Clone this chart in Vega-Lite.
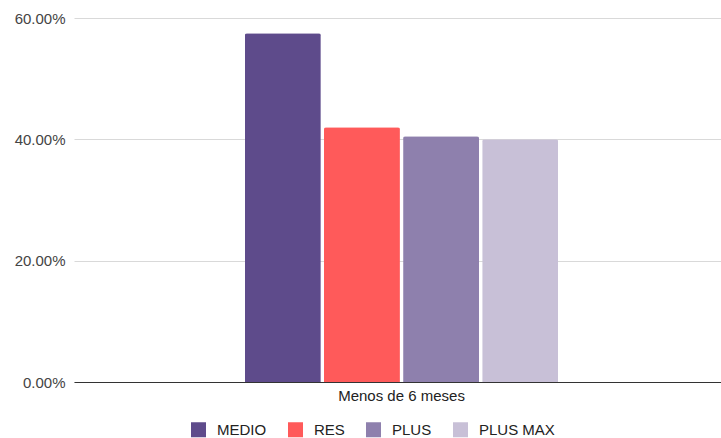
{
  "$schema": "https://vega.github.io/schema/vega-lite/v6.json",
  "width": 647,
  "height": 364,
  "autosize": {"type": "none"},
  "padding": {"left": 74, "top": 18, "right": 0, "bottom": 56},
  "background": "#ffffff",
  "config": {
    "view": {"stroke": null},
    "font": "Liberation Sans",
    "axis": {"labelFont": "Liberation Sans", "titleFont": "Liberation Sans"},
    "legend": {"labelFont": "Liberation Sans"}
  },
  "data": {
    "values": [
      {"grupo": "Menos de 6 meses", "serie": "MEDIO", "valor": 0.575},
      {"grupo": "Menos de 6 meses", "serie": "RES", "valor": 0.42},
      {"grupo": "Menos de 6 meses", "serie": "PLUS", "valor": 0.405},
      {"grupo": "Menos de 6 meses", "serie": "PLUS MAX", "valor": 0.40}
    ]
  },
  "mark": {"type": "bar", "cornerRadiusTopLeft": 2, "cornerRadiusTopRight": 2},
  "encoding": {
    "x": {
      "field": "grupo",
      "type": "nominal",
      "scale": {"paddingInner": 0, "paddingOuter": 0.533, "align": 0.512},
      "axis": {
        "title": null,
        "labelAngle": 0,
        "ticks": false,
        "domainColor": "#333333",
        "domainWidth": 1,
        "labelColor": "#222222",
        "labelFontSize": 15,
        "labelPadding": 6
      }
    },
    "xOffset": {
      "field": "serie",
      "type": "nominal",
      "sort": ["MEDIO", "RES", "PLUS", "PLUS MAX"],
      "scale": {"paddingInner": 0.04, "paddingOuter": 0}
    },
    "y": {
      "field": "valor",
      "type": "quantitative",
      "scale": {"domain": [0, 0.6]},
      "axis": {
        "title": null,
        "format": ".2%",
        "values": [0, 0.2, 0.4, 0.6],
        "domain": false,
        "ticks": false,
        "gridColor": "#d9d9d9",
        "labelColor": "#444444",
        "labelFontSize": 15,
        "labelPadding": 9
      }
    },
    "color": {
      "field": "serie",
      "type": "nominal",
      "sort": ["MEDIO", "RES", "PLUS", "PLUS MAX"],
      "scale": {
        "domain": ["MEDIO", "RES", "PLUS", "PLUS MAX"],
        "range": ["#5e4b8b", "#ff5a5a", "#8e80ad", "#c8c0d7"]
      },
      "legend": {
        "title": null,
        "orient": "none",
        "legendX": 117,
        "legendY": 404,
        "direction": "horizontal",
        "symbolType": "square",
        "symbolSize": 225,
        "symbolStrokeWidth": 0,
        "labelFontSize": 15,
        "labelColor": "#222222",
        "labelOffset": 11,
        "columnPadding": 21
      }
    }
  }
}
